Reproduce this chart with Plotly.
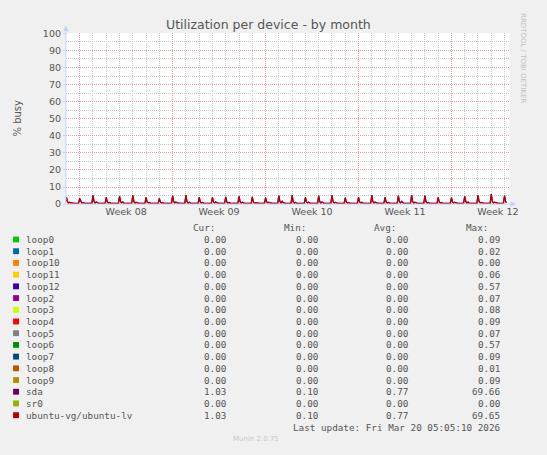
import pandas as pd
import plotly.graph_objects as go

W, H = 547, 455

# 2-hourly averages of % busy, first point 2026-02-14 20:00
# (one line per day: 00:00, 02:00, ... 22:00)
busy_sda = [
    0.5, 0.6,
    4.0, 1.4, 0.6, 1.1, 0.7, 0.5, 0.4, 0.5, 0.4, 0.5, 0.4, 0.6,  # Feb 15
    3.3, 1.2, 0.5, 0.9, 0.6, 0.4, 0.5, 0.4, 0.5, 0.4, 0.5, 0.5,  # Feb 16
    5.2, 1.5, 0.6, 1.2, 0.7, 0.5, 0.4, 0.5, 0.5, 0.4, 0.5, 0.6,  # Feb 17
    4.0, 1.3, 0.5, 1.0, 0.6, 0.4, 0.5, 0.4, 0.4, 0.5, 0.4, 0.5,  # Feb 18
    4.6, 1.4, 0.6, 1.3, 0.6, 0.5, 0.4, 0.5, 0.4, 0.5, 0.5, 0.5,  # Feb 19
    5.2, 1.5, 0.5, 1.1, 0.7, 0.4, 0.5, 0.4, 0.5, 0.4, 0.4, 0.6,  # Feb 20
    4.0, 1.2, 0.6, 1.0, 0.6, 0.5, 0.4, 0.5, 0.4, 0.5, 0.5, 0.5,  # Feb 21
    3.3, 1.1, 0.5, 0.9, 0.5, 0.4, 0.5, 0.4, 0.4, 0.4, 0.5, 0.5,  # Feb 22
    5.0, 1.4, 0.6, 1.2, 0.7, 0.5, 0.4, 0.5, 0.5, 0.4, 0.5, 0.6,  # Feb 23
    5.2, 1.5, 0.6, 1.1, 0.6, 0.4, 0.5, 0.4, 0.5, 0.5, 0.4, 0.5,  # Feb 24
    4.0, 1.3, 0.5, 1.0, 0.6, 0.5, 0.4, 0.5, 0.4, 0.5, 0.5, 0.5,  # Feb 25
    4.0, 1.2, 0.6, 1.3, 0.7, 0.4, 0.5, 0.4, 0.5, 0.4, 0.5, 0.6,  # Feb 26
    4.2, 1.3, 0.5, 1.0, 0.6, 0.5, 0.4, 0.5, 0.4, 0.5, 0.4, 0.5,  # Feb 27
    4.6, 1.4, 0.6, 1.1, 0.6, 0.4, 0.5, 0.4, 0.5, 0.5, 0.5, 0.5,  # Feb 28
    4.2, 1.2, 0.5, 0.9, 0.6, 0.5, 0.4, 0.5, 0.4, 0.4, 0.5, 0.5,  # Mar 01
    3.7, 1.3, 0.6, 1.1, 0.7, 0.4, 0.5, 0.4, 0.5, 0.5, 0.4, 0.6,  # Mar 02
    5.0, 1.5, 0.6, 1.6, 0.8, 0.5, 0.4, 0.5, 0.4, 0.5, 0.5, 0.5,  # Mar 03
    5.2, 1.4, 0.5, 1.0, 0.6, 0.4, 0.5, 0.4, 0.5, 0.4, 0.5, 0.6,  # Mar 04
    4.0, 1.3, 0.6, 1.1, 0.6, 0.5, 0.4, 0.5, 0.4, 0.5, 0.4, 0.5,  # Mar 05
    5.0, 1.4, 0.5, 1.2, 0.7, 0.4, 0.5, 0.4, 0.5, 0.5, 0.5, 0.5,  # Mar 06
    5.2, 1.5, 0.6, 1.0, 0.6, 0.5, 0.4, 0.5, 0.4, 0.4, 0.5, 0.6,  # Mar 07
    3.7, 1.2, 0.5, 0.9, 0.6, 0.4, 0.5, 0.4, 0.5, 0.5, 0.4, 0.5,  # Mar 08
    4.0, 1.3, 0.6, 1.1, 0.6, 0.5, 0.4, 0.5, 0.4, 0.5, 0.5, 0.5,  # Mar 09
    5.2, 1.5, 0.6, 1.2, 0.7, 0.4, 0.5, 0.4, 0.5, 0.4, 0.5, 0.6,  # Mar 10
    4.0, 1.3, 0.5, 1.0, 0.6, 0.5, 0.4, 0.5, 0.4, 0.5, 0.4, 0.5,  # Mar 11
    5.0, 1.4, 0.6, 1.6, 0.8, 0.4, 0.5, 0.4, 0.5, 0.5, 0.5, 0.5,  # Mar 12
    5.2, 1.5, 0.5, 1.1, 0.6, 0.5, 0.4, 0.5, 0.4, 0.4, 0.5, 0.6,  # Mar 13
    5.0, 1.4, 0.6, 1.0, 0.6, 0.4, 0.5, 0.4, 0.5, 0.5, 0.4, 0.5,  # Mar 14
    4.0, 1.2, 0.5, 0.9, 0.6, 0.5, 0.4, 0.5, 0.4, 0.5, 0.5, 0.5,  # Mar 15
    3.7, 1.3, 0.6, 1.1, 0.7, 0.4, 0.5, 0.4, 0.5, 0.4, 0.5, 0.6,  # Mar 16
    4.6, 1.4, 0.5, 1.2, 0.6, 0.5, 0.4, 0.5, 0.4, 0.5, 0.4, 0.5,  # Mar 17
    5.2, 1.5, 0.6, 1.0, 0.6, 0.4, 0.5, 0.4, 0.5, 0.5, 0.5, 0.5,  # Mar 18
    5.8, 1.6, 0.6, 1.1, 0.7, 0.5, 0.4, 0.5, 0.4, 0.4, 0.5, 0.6,  # Mar 19
    5.0, 1.3, 1.03,                                              # Mar 20
]
# ubuntu-vg/ubuntu-lv sits on sda, same numbers
busy_lv = busy_sda

# legend table
devices = ["loop0", "loop1", "loop10", "loop11", "loop12", "loop2", "loop3", "loop4",
           "loop5", "loop6", "loop7", "loop8", "loop9", "sda", "sr0", "ubuntu-vg/ubuntu-lv"]
dev_colors = ["#00CC00", "#0066B3", "#FF8000", "#FFCC00", "#330099", "#990099", "#CCFF00", "#FF0000",
              "#808080", "#008F00", "#00487D", "#B35A00", "#B38F00", "#6B006B", "#8FB300", "#B30000"]
cur = ["0.00"] * 13 + ["1.03", "0.00", "1.03"]
mins = ["0.00"] * 13 + ["0.10", "0.00", "0.10"]
avgs = ["0.00"] * 13 + ["0.77", "0.00", "0.77"]
maxs = ["0.09", "0.02", "0.00", "0.06", "0.57", "0.07", "0.08", "0.09",
        "0.07", "0.57", "0.09", "0.01", "0.09", "69.66", "0.00", "69.65"]

times = pd.date_range("2026-02-14 20:00", periods=len(busy_sda), freq="2h")


def px(x):
    return x / W


def py(y):
    return 1 - y / H


TXT = "#555555"
MONO = "DejaVu Sans Mono"
SANS = "DejaVu Sans"

fig = go.Figure()
fig.add_trace(go.Scatter(x=times, y=busy_sda, mode="lines",
                         line=dict(color="#6B006B", width=1.2), hoverinfo="skip"))
fig.add_trace(go.Scatter(x=times, y=busy_lv, mode="lines",
                         line=dict(color="#B30000", width=1.2), hoverinfo="skip"))

fig.update_layout(
    width=W, height=H, autosize=False,
    margin=dict(l=0, r=0, t=0, b=0),
    paper_bgcolor="#F0F0F0", plot_bgcolor="#F0F0F0",
    showlegend=False,
    font=dict(family=SANS, color=TXT, size=9),
    xaxis=dict(
        domain=[px(67), px(518)],
        type="date",
        range=["2026-02-14 23:05", "2026-03-20 08:55"],
        tick0="2026-02-16", dtick=7 * 86400000,
        ticklabelmode="period", tickformat="Week %V",
        showgrid=True, gridcolor="#E6A0A0", griddash="1px,1px", gridwidth=1,
        minor=dict(dtick=86400000, tick0="2026-02-16", showgrid=True,
                   gridcolor="#C8C8C8", griddash="1px,1px", gridwidth=1),
        ticks="", showline=False, zeroline=False,
        tickfont=dict(size=9.5, color=TXT),
    ),
    yaxis=dict(
        domain=[py(203), py(28)],
        range=[0, 100], dtick=10,
        showgrid=True, gridcolor="#E6A0A0", griddash="1px,1px", gridwidth=1,
        minor=dict(dtick=5, showgrid=True, gridcolor="#C8C8C8", griddash="1px,1px", gridwidth=1),
        ticks="outside", ticklen=2, tickcolor="#C8D0F0",
        showline=False, zeroline=False,
        tickfont=dict(size=9.5, color=TXT),
    ),
)

shapes = [
    # white plot background under the grid
    dict(type="rect", xref="x domain", yref="y domain", x0=0, x1=1, y0=0, y1=1,
         fillcolor="white", line=dict(width=0), layer="below"),
    # axes with arrows
    dict(type="line", xref="paper", yref="paper", x0=px(67), x1=px(67), y0=py(203), y1=py(22),
         line=dict(color="#C8D0F8", width=1)),
    dict(type="line", xref="paper", yref="paper", x0=px(67), x1=px(522), y0=py(203), y1=py(203),
         line=dict(color="#C8D0F8", width=1)),
    dict(type="path", xref="paper", yref="paper",
         path=f"M {px(64)} {py(26)} L {px(70)} {py(26)} L {px(67)} {py(20)} Z",
         fillcolor="#C8D0F8", line=dict(width=0)),
    dict(type="path", xref="paper", yref="paper",
         path=f"M {px(519)} {py(200)} L {px(519)} {py(206)} L {px(525)} {py(203)} Z",
         fillcolor="#C8D0F8", line=dict(width=0)),
]

ann = [
    dict(text="Utilization per device - by month", x=px(273), y=py(19),
         font=dict(size=12.5, color=TXT)),
    dict(text="% busy", x=px(11), y=py(115), textangle=-90, font=dict(size=10, color=TXT)),
    dict(text="RRDTOOL / TOBI OETIKER", x=px(537.5), y=py(53), textangle=90,
         font=dict(size=7, color="#C0C0C0")),
    dict(text="Munin 2.0.75", x=px(260), y=py(444), font=dict(size=7, color="#C8C8C8")),
]

# legend table
cols_val = [231, 324, 416, 509]
cols_head = [220, 312, 404, 497]
for head, xh in zip(["Cur:", "Min:", "Avg:", "Max:"], cols_head):
    ann.append(dict(text=head, x=px(xh), y=py(227.3), xanchor="right",
                    font=dict(family=MONO, size=9.3, color=TXT)))
for i, name in enumerate(devices):
    yr = 239.3 + 12 * i
    shapes.append(dict(type="rect", xref="paper", yref="paper",
                       x0=px(13.3), x1=px(19.3), y0=py(yr - 3), y1=py(yr + 3),
                       fillcolor=dev_colors[i], line=dict(width=0)))
    ann.append(dict(text=name, x=px(25), y=py(yr), xanchor="left",
                    font=dict(family=MONO, size=9.3, color=TXT)))
    for vals, xv in zip([cur, mins, avgs, maxs], cols_val):
        ann.append(dict(text=vals[i], x=px(xv), y=py(yr), xanchor="right",
                        font=dict(family=MONO, size=9.3, color=TXT)))
ann.append(dict(text="Last update: Fri Mar 20 05:05:10 2026", x=px(509), y=py(431.7),
                xanchor="right", font=dict(family=MONO, size=9.3, color=TXT)))

for a in ann:
    a.setdefault("xref", "paper")
    a.setdefault("yref", "paper")
    a.setdefault("showarrow", False)
    a.setdefault("yanchor", "middle")
    a.setdefault("borderpad", 0)

fig.update_layout(shapes=shapes, annotations=ann)

fig.write_html("out.html", config={"displayModeBar": False},
               post_script="document.body.style.margin='0';")
